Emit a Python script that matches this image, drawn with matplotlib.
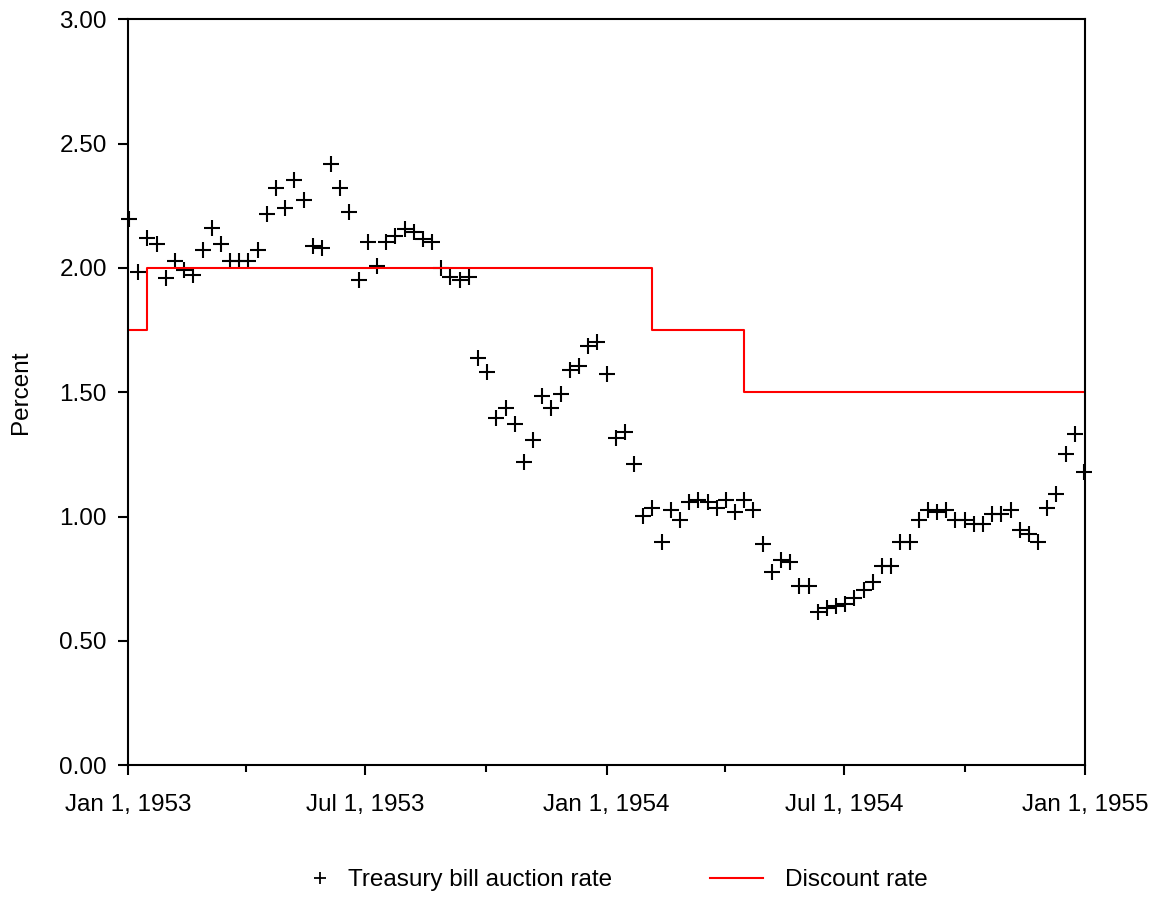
import numpy as np
import matplotlib
matplotlib.use("Agg")
import matplotlib.pyplot as plt
import matplotlib.dates as mdates
from matplotlib.lines import Line2D
from matplotlib.ticker import FuncFormatter, FixedLocator

plt.rcParams['font.family'] = ['Liberation Sans', 'DejaVu Sans']

###############################################################################
# Data

# weekly treasury bill auction rate, first auction early Jan 1953
tbill_start = np.datetime64('1953-01-02')
tbill_rate = [
    2.197, 1.984, 2.121, 2.097, 1.960, 2.028, 1.992, 1.972, 2.072, 2.161,
    2.097, 2.028, 2.028, 2.028, 2.072, 2.217, 2.322, 2.241, 2.354, 2.274,
    2.089, 2.080, 2.419, 2.322, 2.225, 1.952, 2.105, 2.008, 2.105, 2.129,
    2.157, 2.145, 2.117, 2.105, 2.000, 1.964, 1.952, 1.964, 1.638, 1.581,
    1.396, 1.437, 1.372, 1.219, 1.308, 1.485, 1.437, 1.493, 1.590, 1.606,
    1.686, 1.702, 1.573, 1.316, 1.340, 1.211, 1.002, 1.034, 0.897, 1.026,
    0.986, 1.058, 1.066, 1.058, 1.034, 1.066, 1.018, 1.066, 1.026, 0.889,
    0.777, 0.825, 0.817, 0.720, 0.720, 0.616, 0.632, 0.640, 0.648, 0.672,
    0.704, 0.736, 0.801, 0.801, 0.897, 0.897, 0.986, 1.026, 1.018, 1.026,
    0.986, 0.986, 0.970, 0.970, 1.010, 1.010, 1.026, 0.946, 0.930, 0.897,
    1.034, 1.091, 1.252, 1.332, 1.179,
]

# discount rate changes
discount_dates = ['1953-01-01', '1953-01-16', '1954-02-05', '1954-04-16', '1955-01-01']
discount_rate = [1.75, 2.00, 1.75, 1.50, 1.50]

###############################################################################
# Plot

FS = 17.5

tbill_dates = tbill_start + np.arange(len(tbill_rate)) * np.timedelta64(7, 'D')
tbill_dates = tbill_dates.astype('datetime64[D]').astype(object)
disc_dates = np.array(discount_dates, dtype='datetime64[D]').astype(object)

fig = plt.figure(figsize=(11.62, 9.22), dpi=100)
ax = fig.add_axes([0.110, 0.170, 0.824, 0.809])

ax.plot(tbill_dates, tbill_rate, linestyle='none', marker='+', color='black',
        markersize=12, markeredgewidth=1.5, clip_on=False)
ax.plot(disc_dates, discount_rate, drawstyle='steps-post', color='#ff0000',
        linewidth=1.5)

ax.set_xlim(mdates.date2num(np.datetime64('1953-01-01')),
            mdates.date2num(np.datetime64('1955-01-01')))
ax.set_ylim(0, 3)

major = ['1953-01-01', '1953-07-01', '1954-01-01', '1954-07-01', '1955-01-01']
minor = ['1953-04-01', '1953-10-01', '1954-04-01', '1954-10-01']
ax.xaxis.set_major_locator(FixedLocator([mdates.date2num(np.datetime64(d)) for d in major]))
ax.xaxis.set_minor_locator(FixedLocator([mdates.date2num(np.datetime64(d)) for d in minor]))

def date_label(x, pos):
    d = mdates.num2date(x)
    return f"{d:%b} {d.day}, {d.year}"

ax.xaxis.set_major_formatter(FuncFormatter(date_label))
ax.set_yticks(np.arange(0, 3.01, 0.5))
ax.yaxis.set_major_formatter(FuncFormatter(lambda v, p: f"{v:.2f}"))

ax.tick_params(axis='x', which='major', length=7, width=1.5, pad=14, labelsize=FS)
ax.tick_params(axis='x', which='minor', length=5, width=1.5)
ax.tick_params(axis='y', length=7, width=1.5, pad=8, labelsize=FS)
for s in ax.spines.values():
    s.set_linewidth(1.5)

ax.set_ylabel('Percent', fontsize=FS, labelpad=20)

# legend: two separate entries placed under the axes
h_tb = Line2D([], [], linestyle='none', marker='+', color='black',
              markersize=8, markeredgewidth=1.3)
h_dr = Line2D([], [], color='#ff0000', linewidth=1.5)
leg1 = fig.legend([h_tb], ['Treasury bill auction rate'], loc='center left',
                  bbox_to_anchor=(310 / 1162, 1 - 880 / 922), frameon=False,
                  fontsize=FS, handlelength=0.8, handletextpad=0.75,
                  borderpad=0, borderaxespad=0)
leg2 = fig.legend([h_dr], ['Discount rate'], loc='center left',
                  bbox_to_anchor=(710 / 1162, 1 - 880 / 922), frameon=False,
                  fontsize=FS, handlelength=2.18, handletextpad=0.9,
                  borderpad=0, borderaxespad=0)

fig.savefig('out.png', dpi=100)
